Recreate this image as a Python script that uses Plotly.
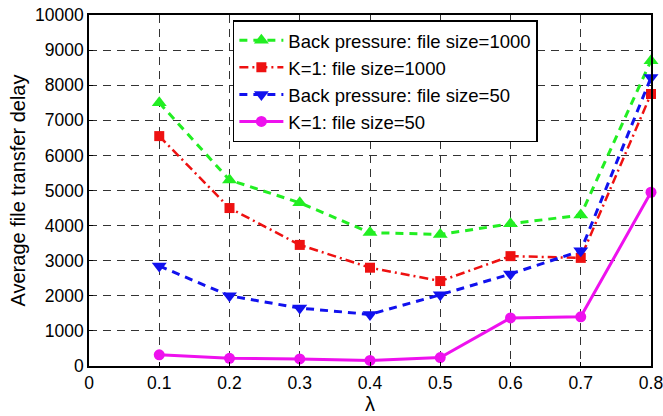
import plotly.graph_objects as go

lam = [0.1, 0.2, 0.3, 0.4, 0.5, 0.6, 0.7, 0.8]
bp_1000 = [7500, 5300, 4650, 3800, 3750, 4050, 4300, 8700]
k1_1000 = [6550, 4500, 3450, 2800, 2420, 3130, 3080, 7750]
bp_50 = [2850, 2000, 1650, 1470, 2030, 2620, 3280, 8220]
k1_50 = [320, 220, 200, 160, 240, 1370, 1400, 4950]

x_ticks = [0, 0.1, 0.2, 0.3, 0.4, 0.5, 0.6, 0.7, 0.8]
x_labels = ["0", "0.1", "0.2", "0.3", "0.4", "0.5", "0.6", "0.7", "0.8"]
y_ticks = list(range(0, 10001, 1000))
y_labels = [str(v) for v in y_ticks]

fig = go.Figure()
fig.add_trace(go.Scatter(x=lam, y=bp_1000, mode="lines+markers",
    name="Back pressure: file size=1000",
    line=dict(color="#22ee22", width=3, dash="8px,6px"),
    marker=dict(symbol="triangle-up", size=13, color="#22ee22"), cliponaxis=False))
fig.add_trace(go.Scatter(x=lam, y=k1_1000, mode="lines+markers",
    name="K=1: file size=1000",
    line=dict(color="#ee1111", width=2.5, dash="9px,4px,2px,4px"),
    marker=dict(symbol="square", size=10, color="#ee1111"), cliponaxis=False))
fig.add_trace(go.Scatter(x=lam, y=bp_50, mode="lines+markers",
    name="Back pressure: file size=50",
    line=dict(color="#1111ee", width=3, dash="8px,6px"),
    marker=dict(symbol="triangle-down", size=13, color="#1111ee"), cliponaxis=False))
fig.add_trace(go.Scatter(x=lam, y=k1_50, mode="lines+markers",
    name="K=1: file size=50",
    line=dict(color="#ee11ee", width=3),
    marker=dict(symbol="circle", size=11, color="#ee11ee"), cliponaxis=False))

axis_common = dict(showline=True, linecolor="black", linewidth=1.5, mirror=True,
                   showgrid=True, gridcolor="#333333", griddash="8px,6px", gridwidth=1,
                   zeroline=False, ticks="inside", ticklen=4, tickcolor="black",
                   tickfont=dict(size=17.5, color="black"), automargin=False,
                   ticklabeloverflow="allow")

fig.update_layout(
    width=663, height=416,
    margin=dict(l=89, r=12, t=15, b=50),
    paper_bgcolor="white", plot_bgcolor="white",
    font=dict(family="Liberation Sans, Arial, sans-serif", color="black"),
    xaxis=dict(range=[0, 0.8], tickvals=x_ticks, ticktext=x_labels,
               title=dict(text="λ", font=dict(size=20), standoff=2), **axis_common),
    yaxis=dict(range=[0, 10000], tickvals=y_ticks, ticktext=y_labels,
               title=dict(text="Average file transfer delay", font=dict(size=20), standoff=4),
               **axis_common),
    legend=dict(x=0.256, y=0.985, xanchor="left", yanchor="top",
                bgcolor="white", bordercolor="black", borderwidth=1.5,
                font=dict(size=18.5, color="black"), itemwidth=44, tracegroupgap=0),
    showlegend=True,
)

fig.write_html("out.html", config={"displayModeBar": False},
               post_script="document.body.style.margin='0';document.body.style.overflow='hidden';")
